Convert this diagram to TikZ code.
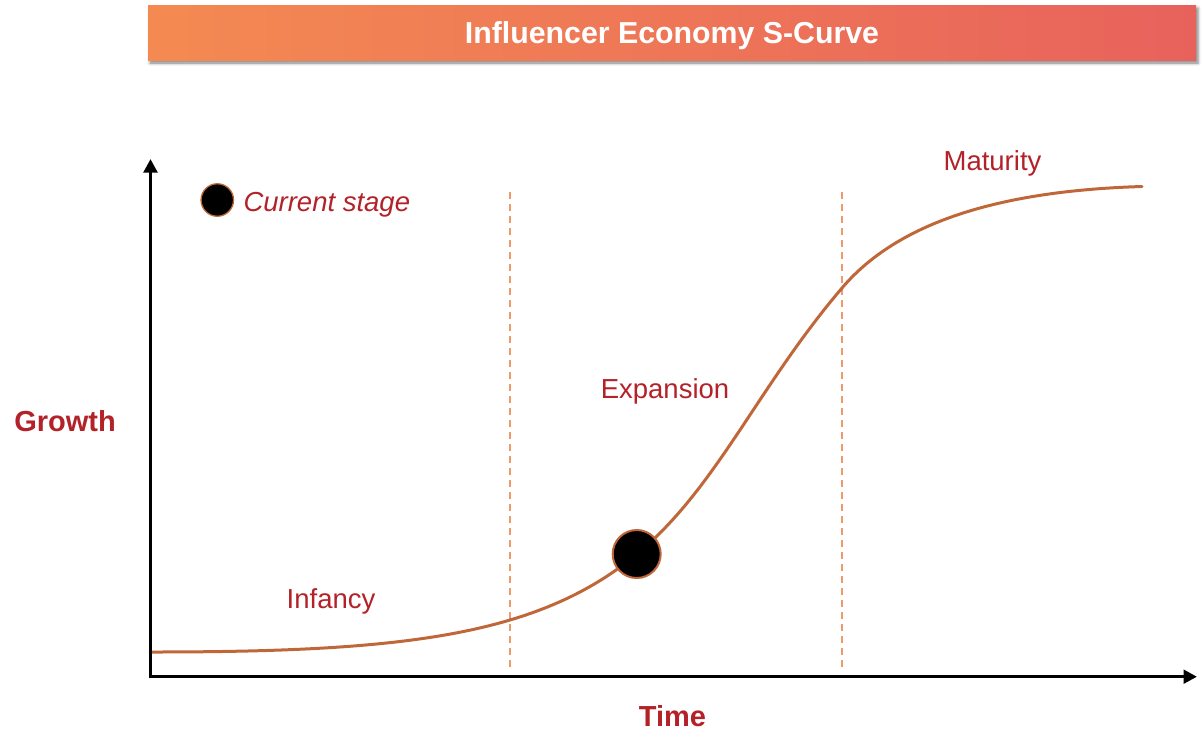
\documentclass[tikz,border=0pt]{standalone}
\usepackage{fontspec}
\setmainfont{Liberation Sans}
\usetikzlibrary{arrows.meta,shadows,shadows.blur}
\definecolor{txtred}{RGB}{178,34,40}
\definecolor{curvecol}{RGB}{192,103,58}
\definecolor{dashcol}{RGB}{238,154,106}
\definecolor{barleft}{RGB}{244,138,82}
\definecolor{barright}{RGB}{232,98,92}
\tikzset{
  titlebar/.style={draw=none, inner sep=0pt, minimum width=1048pt, minimum height=55pt,
    left color=barleft, right color=barright,
    blur shadow={shadow xshift=2pt, shadow yshift=-3pt, shadow blur radius=3pt, shadow opacity=50}},
  titletext/.style={text=white, font=\bfseries\fontsize{30.3}{36}\selectfont, anchor=base, inner sep=0pt},
  stagelabel/.style={text=txtred, font=\fontsize{27.5}{33}\selectfont, anchor=base, inner sep=0pt},
  axislabel/.style={text=txtred, font=\bfseries\fontsize{29}{34}\selectfont, anchor=base, inner sep=0pt},
  axisline/.style={line width=3.4pt, -{Triangle[length=13.5pt,width=13.5pt]}},
  phaseline/.style={draw=dashcol, line width=1.4pt, dash pattern=on 7pt off 5pt},
  scurve/.style={draw=curvecol, line width=3pt, line cap=round},
  stagedot/.style={circle, fill=black, draw=curvecol, inner sep=0pt},
}
\begin{document}
\begin{tikzpicture}[x=1pt,y=-1pt]
\useasboundingbox (0,0) rectangle (1204,732);
% title
\node[titlebar] (bar) at (672,32.5) {};
\node[titletext] (title) at (672,43.6) {Influencer Economy S-Curve};
% phase lines
\coordinate (d1t) at (510,192);
\coordinate (d1b) at (510,668);
\coordinate (d2t) at (842,192);
\coordinate (d2b) at (842,668);
\draw[phaseline] (d1t) -- (d1b);
\draw[phaseline] (d2t) -- (d2b);
% curve
\coordinate (c0) at (150,652);
\coordinate (c1) at (637,554);
\coordinate (c2) at (842,288);
\coordinate (c3) at (1142,186.5);
\draw[scurve] (c0) .. controls (400,652) and (537,637) .. (c1)
  .. controls (717,487.6) and (757,387.7) .. (c2)
  .. controls (902,217.2) and (1012,190.4) .. (c3);
% axes
\coordinate (origin) at (150.5,676.7);
\coordinate (ytip) at (150.5,159);
\coordinate (xstart) at (148.8,676.7);
\coordinate (xtip) at (1197,676.7);
\draw[axisline] (origin) -- (ytip);
\draw[axisline] (xstart) -- (xtip);
% dots
\node[stagedot, minimum size=48pt, line width=2pt] (now) at (636.7,554) {};
\node[stagedot, minimum size=32.5pt, line width=1.3pt] (legdot) at (217.3,200) {};
\node[stagelabel, anchor=base west, font=\itshape\fontsize{27.5}{33}\selectfont] (legtext) at (243.3,211.7) {Current stage};
% stage labels
\node[stagelabel] (infancy) at (331,608) {Infancy};
\node[stagelabel] (expansion) at (665,398.3) {Expansion};
\node[stagelabel] (maturity) at (992.5,170.7) {Maturity};
% axis labels
\node[axislabel] (growth) at (65,431.7) {Growth};
\node[axislabel] (time) at (672.5,726) {Time};
\end{tikzpicture}
\end{document}
